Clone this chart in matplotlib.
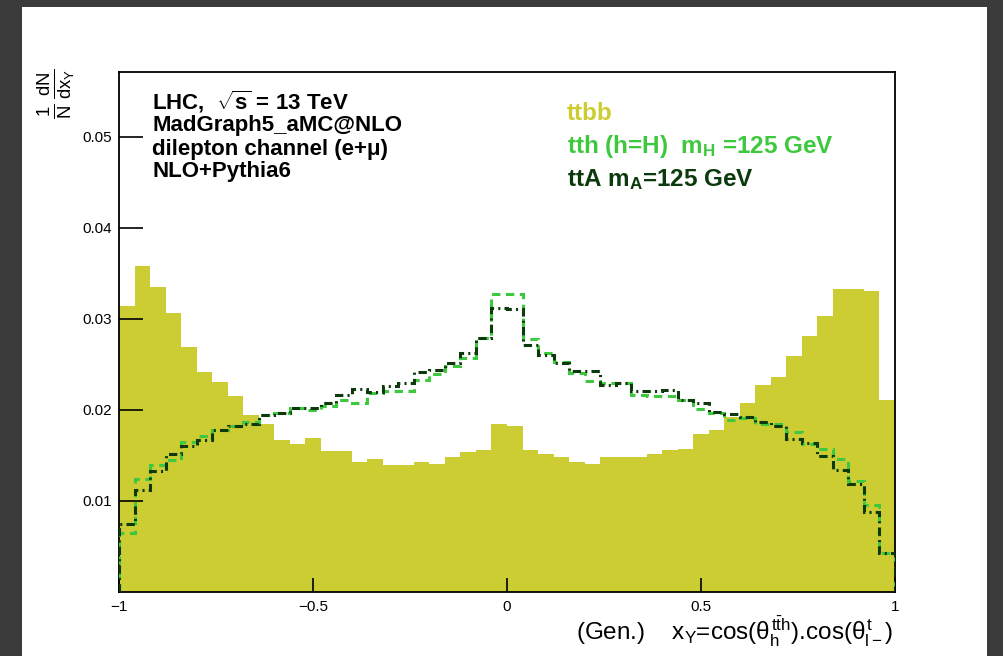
import numpy as np
import matplotlib
matplotlib.use("Agg")
import matplotlib.pyplot as plt
from matplotlib.patches import Rectangle

# ---------------- data ----------------
bin_edges = np.linspace(-1.0, 1.0, 51)

ttbb = [0.0314, 0.0358, 0.0335, 0.0306, 0.0269, 0.0242, 0.0231, 0.0215, 0.0194, 0.0185,
        0.0167, 0.0163, 0.0169, 0.0155, 0.0155, 0.0143, 0.0146, 0.0139, 0.0139, 0.0143,
        0.0141, 0.0148, 0.0154, 0.0156, 0.0185, 0.0182, 0.0156, 0.0152, 0.0148, 0.0143,
        0.0141, 0.0148, 0.0148, 0.0148, 0.0152, 0.0156, 0.0157, 0.0173, 0.0178, 0.0192,
        0.0207, 0.0227, 0.0236, 0.0259, 0.0281, 0.0303, 0.0333, 0.0333, 0.0331, 0.0211]

tth = [0.0065, 0.0124, 0.0139, 0.0145, 0.0165, 0.0171, 0.0178, 0.0182, 0.0187, 0.0194,
       0.0197, 0.0202, 0.0200, 0.0204, 0.0211, 0.0207, 0.0219, 0.0221, 0.0221, 0.0233,
       0.0239, 0.0248, 0.0257, 0.0279, 0.0327, 0.0327, 0.0278, 0.0262, 0.0253, 0.0241,
       0.0232, 0.0230, 0.0229, 0.0216, 0.0215, 0.0215, 0.0211, 0.0201, 0.0197, 0.0189,
       0.0191, 0.0185, 0.0185, 0.0176, 0.0163, 0.0157, 0.0146, 0.0122, 0.0096, 0.0043]

ttA = [0.0075, 0.0112, 0.0133, 0.0152, 0.0160, 0.0167, 0.0178, 0.0182, 0.0185, 0.0194,
       0.0197, 0.0202, 0.0202, 0.0207, 0.0216, 0.0223, 0.0220, 0.0226, 0.0230, 0.0242,
       0.0244, 0.0252, 0.0262, 0.0279, 0.0312, 0.0311, 0.0271, 0.0260, 0.0252, 0.0243,
       0.0243, 0.0227, 0.0229, 0.0221, 0.0221, 0.0222, 0.0211, 0.0207, 0.0198, 0.0195,
       0.0192, 0.0187, 0.0182, 0.0168, 0.0164, 0.0149, 0.0134, 0.0119, 0.0088, 0.0043]

x_ticks = [-1, -0.5, 0, 0.5, 1]
x_tick_labels = ["\u22121", "\u22120.5", "0", "0.5", "1"]
y_ticks = [0.01, 0.02, 0.03, 0.04, 0.05]
y_tick_labels = ["0.01", "0.02", "0.03", "0.04", "0.05"]

info_lines = [r"LHC,  $\sqrt{\mathbf{s}}$ = 13 TeV",
              "MadGraph5_aMC@NLO",
              "dilepton channel (e+\u03bc)",
              "NLO+Pythia6"]
legend_labels = ["ttbb",
                 r"tth (h=H)  m$_{\mathbf{H}}$ =125 GeV",
                 r"ttA m$_{\mathbf{A}}$=125 GeV"]

# ---------------- style ----------------
plt.rcParams['font.family'] = ['Liberation Sans', 'DejaVu Sans']
plt.rcParams['mathtext.fontset'] = 'custom'
plt.rcParams['mathtext.rm'] = 'Liberation Sans'
plt.rcParams['mathtext.it'] = 'Liberation Sans'
plt.rcParams['mathtext.bf'] = 'Liberation Sans:bold'
plt.rcParams['mathtext.sf'] = 'Liberation Sans'
plt.rcParams['lines.scale_dashes'] = False

c_ttbb = '#cccc33'
c_tth = '#3ec83e'
c_ttA = '#0c3a0c'

W, H = 1004, 656
fig = plt.figure(figsize=(W / 100, H / 100), dpi=100)
fig.patch.set_facecolor('#3b3b3b')
fig.patches.append(Rectangle((22 / W, 0), (987 - 22) / W, 1 - 7 / H,
                             transform=fig.transFigure, facecolor='white',
                             edgecolor='none', zorder=-5))

ax = fig.add_axes([119 / W, 1 - 592 / H, (895 - 119) / W, (592 - 72) / H])
ax.set_zorder(2)
ax.set_facecolor('white')

ax.stairs(ttbb, bin_edges, fill=True, color=c_ttbb, linewidth=0, zorder=1)
ax.stairs(tth, bin_edges, color=c_tth, linewidth=2.2,
          linestyle=(0, (6, 4)), zorder=3)
ax.stairs(ttA, bin_edges, color=c_ttA, linewidth=2.2,
          linestyle=(0, (6, 3, 1.5, 3)), zorder=4)

ax.set_xlim(-1, 1)
ax.set_ylim(0, 0.0571)
ax.set_xticks(x_ticks)
ax.set_xticklabels(x_tick_labels)
ax.set_yticks(y_ticks)
ax.set_yticklabels(y_tick_labels)
ax.tick_params(axis='x', direction='in', length=10, width=1.2, labelsize=11, pad=6,
               top=False)
ax.tick_params(axis='y', direction='in', length=17, width=1.2, labelsize=11, pad=5,
               right=False)
for s in ax.spines.values():
    s.set_linewidth(1.3)
    s.set_color('black')

# info text
ys = [102, 126, 149, 172]
for t, yy in zip(info_lines, ys):
    fig.text(152 / W, 1 - yy / H, t, fontsize=16, fontweight='bold',
             ha='left', va='center', color='black', zorder=5)

# legend (text only)
leg_y = [114, 146, 180]
leg_c = [c_ttbb, c_tth, c_ttA]
for t, yy, c in zip(legend_labels, leg_y, leg_c):
    fig.text(567 / W, 1 - yy / H, t, fontsize=17.5, fontweight='bold',
             ha='left', va='center', color=c, zorder=5)

# y label
fig.text(56 / W, 1 - 68 / H, r'$\frac{1}{N}\,\frac{dN}{dx_{Y}}$', rotation=90,
         fontsize=19, ha='center', va='top', zorder=5)

# x label
fig.text(893 / W, 1 - 632 / H,
         r'(Gen.)    x$_{\mathrm{Y}}$=cos($\theta_{\mathrm{h}}^{\mathrm{t\bar{t}h}}$).cos($\theta_{\mathrm{l-}}^{\mathrm{t}}$)',
         fontsize=17.5, ha='right', va='center', zorder=5)

fig.savefig('out.png', dpi=100, facecolor=fig.get_facecolor())
